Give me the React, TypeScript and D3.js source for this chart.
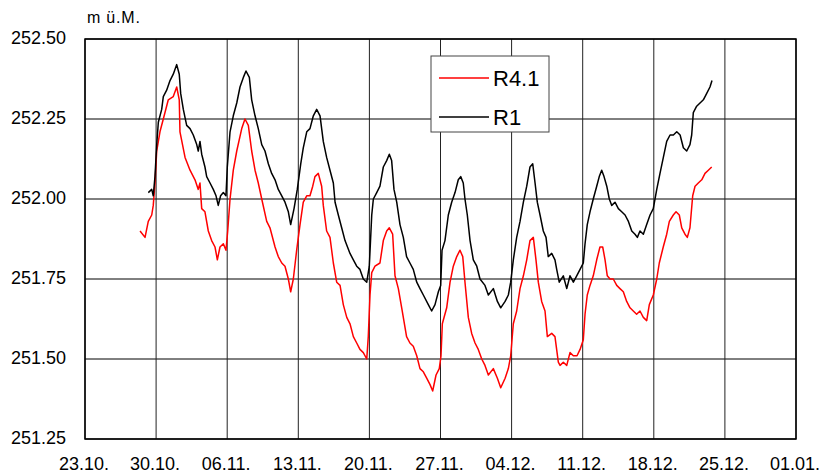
import React from "react";
import { scaleUtc, scaleLinear, line, range } from "d3";

// time axis: days since 23.10.
const startDate = Date.UTC(2006, 9, 23);
const weekTicks = range(0, 71, 7);
const tickLabels = ["23.10.", "30.10.", "06.11.", "13.11.", "20.11.", "27.11.", "04.12.", "11.12.", "18.12.", "25.12.", "01.01."];
const levelTicks = [251.25, 251.5, 251.75, 252.0, 252.25, 252.5];

// R4.1 (red)
const dayR41 = [
  5.42, 5.91, 6.23, 6.57, 6.72, 6.89, 7.06, 7.38, 7.71, 8.2, 8.69, 9.03, 9.28, 9.35, 9.85, 10.34, 10.83, 11.15, 11.32, 11.49,
  11.81, 12.14, 12.47, 12.8, 13.03, 13.29, 13.62, 13.88, 14.05, 14.28, 14.6, 14.94, 15.43, 15.75, 16.08, 16.41, 16.74, 17.06, 17.4, 17.89,
  18.21, 18.71, 19.03, 19.37, 19.69, 20.02, 20.25, 20.51, 20.84, 21.17, 21.49, 21.83, 22.15, 22.42, 22.64, 22.97, 23.3, 23.46, 23.79, 24.12,
  24.45, 24.78, 25.11, 25.43, 25.77, 26.09, 26.42, 26.75, 27.07, 27.4, 27.74, 27.89, 28.06, 28.23, 28.55, 29.04, 29.37, 29.7, 29.96, 30.29,
  30.52, 30.85, 31.18, 31.66, 31.99, 32.32, 32.66, 32.98, 33.31, 33.64, 33.97, 34.23, 34.56, 34.88, 35.05, 35.18, 35.61, 35.94, 36.26, 36.6,
  36.92, 37.19, 37.41, 37.74, 38.07, 38.4, 38.72, 39.06, 39.38, 39.71, 40.2, 40.6, 40.93, 41.36, 41.68, 41.91, 42.17, 42.5, 42.83, 43.16,
  43.49, 43.81, 44.14, 44.4, 44.63, 44.96, 45.29, 45.52, 45.95, 46.27, 46.6, 46.77, 47.09, 47.43, 47.75, 48.08, 48.44, 48.74, 49.06, 49.23,
  49.45, 49.72, 50.04, 50.38, 50.7, 50.97, 51.2, 51.42, 51.69, 52.01, 52.35, 52.67, 53.0, 53.33, 53.66, 53.98, 54.31, 54.64, 54.97, 55.3,
  55.56, 55.95, 56.29, 56.54, 56.93, 57.27, 57.53, 57.92, 58.19, 58.51, 58.75, 59.07, 59.3, 59.56, 59.83, 60.06, 60.38, 60.72, 61.04, 61.37,
  61.7,
];
const levelR41 = [
  251.9, 251.88, 251.93, 251.95, 251.98, 252.05, 252.15, 252.21, 252.25, 252.31, 252.32, 252.35, 252.31, 252.21, 252.13, 252.09, 252.06, 252.03, 252.05, 251.97,
  251.96, 251.9, 251.87, 251.85, 251.81, 251.85, 251.86, 251.84, 251.9, 252.0, 252.09, 252.15, 252.22, 252.25, 252.23, 252.15, 252.09, 252.05, 252.0, 251.93,
  251.91, 251.85, 251.82, 251.8, 251.79, 251.75, 251.71, 251.75, 251.84, 251.92, 251.99, 252.01, 252.01, 252.04, 252.07, 252.08, 252.04, 251.98, 251.9, 251.88,
  251.8, 251.74, 251.73, 251.67, 251.63, 251.61, 251.57, 251.55, 251.53, 251.52, 251.5, 251.57, 251.7, 251.77, 251.79, 251.8, 251.87, 251.9, 251.91, 251.89,
  251.76, 251.72, 251.66, 251.57, 251.55, 251.54, 251.51, 251.47, 251.46, 251.44, 251.42, 251.4, 251.45, 251.47, 251.51, 251.61, 251.66, 251.74, 251.79, 251.82,
  251.84, 251.82, 251.74, 251.63, 251.58, 251.55, 251.53, 251.5, 251.48, 251.45, 251.47, 251.44, 251.41, 251.44, 251.47, 251.51, 251.61, 251.65, 251.72, 251.76,
  251.81, 251.87, 251.88, 251.81, 251.74, 251.68, 251.65, 251.57, 251.58, 251.57, 251.49, 251.48, 251.49, 251.48, 251.52, 251.51, 251.51, 251.53, 251.56, 251.64,
  251.7, 251.73, 251.76, 251.81, 251.85, 251.85, 251.81, 251.76, 251.75, 251.75, 251.73, 251.72, 251.71, 251.68, 251.66, 251.65, 251.64, 251.65, 251.63, 251.62,
  251.67, 251.7, 251.75, 251.8, 251.85, 251.89, 251.93, 251.95, 251.96, 251.95, 251.91, 251.89, 251.88, 251.91, 252.01, 252.04, 252.05, 252.06, 252.08, 252.09,
  252.1,
];

// R1 (black)
const dayR1 = [
  6.23, 6.57, 6.72, 6.89, 7.06, 7.22, 7.55, 7.71, 8.04, 8.37, 8.69, 9.03, 9.28, 9.42, 9.68, 10.01, 10.34, 10.66, 11.0, 11.15,
  11.32, 11.49, 11.81, 11.98, 12.31, 12.63, 12.9, 13.12, 13.35, 13.62, 13.88, 14.01, 14.28, 14.6, 14.94, 15.26, 15.59, 15.85, 16.18, 16.41,
  16.74, 17.06, 17.4, 17.72, 18.05, 18.38, 18.71, 19.03, 19.37, 19.69, 20.02, 20.25, 20.58, 20.9, 21.24, 21.49, 21.83, 22.15, 22.48, 22.81,
  23.14, 23.46, 23.79, 24.12, 24.45, 24.62, 24.94, 25.27, 25.6, 26.09, 26.42, 26.75, 27.07, 27.4, 27.74, 27.99, 28.23, 28.39, 28.72, 29.04,
  29.37, 29.7, 29.96, 30.19, 30.42, 30.69, 31.01, 31.34, 31.66, 31.99, 32.32, 32.66, 32.98, 33.31, 33.8, 34.13, 34.46, 34.79, 35.02, 35.15,
  35.44, 35.77, 36.1, 36.43, 36.75, 36.99, 37.24, 37.41, 37.64, 37.91, 38.23, 38.57, 38.89, 39.38, 39.71, 40.2, 40.6, 40.93, 41.36, 41.68,
  41.91, 42.17, 42.5, 42.83, 43.16, 43.49, 43.81, 44.08, 44.31, 44.53, 44.8, 45.12, 45.39, 45.61, 45.95, 46.27, 46.44, 46.69, 47.09, 47.43,
  47.75, 48.08, 48.41, 48.74, 49.06, 49.23, 49.45, 49.72, 50.04, 50.38, 50.63, 50.87, 51.1, 51.37, 51.62, 51.86, 52.18, 52.51, 52.84, 53.17,
  53.5, 53.83, 54.15, 54.38, 54.64, 54.97, 55.3, 55.63, 55.95, 56.29, 56.61, 56.94, 57.27, 57.6, 57.93, 58.26, 58.59, 58.91, 59.24, 59.56,
  59.73, 59.89, 60.22, 60.55, 60.88, 61.21, 61.53, 61.73,
];
const levelR1 = [
  252.02, 252.03, 252.01, 252.07, 252.17, 252.24, 252.28, 252.32, 252.34, 252.37, 252.39, 252.42, 252.39, 252.33, 252.28, 252.23, 252.22, 252.2, 252.17, 252.15,
  252.18, 252.14, 252.1, 252.07, 252.05, 252.03, 252.01, 251.98, 252.01, 252.02, 252.01, 252.1, 252.21, 252.26, 252.3, 252.35, 252.38, 252.4, 252.38, 252.31,
  252.26, 252.22, 252.17, 252.15, 252.11, 252.08, 252.06, 252.03, 252.01, 251.99, 251.96, 251.92, 251.97, 252.03, 252.11, 252.16, 252.21, 252.22, 252.26, 252.28,
  252.26, 252.18, 252.13, 252.09, 252.05, 251.99, 251.95, 251.91, 251.87, 251.83, 251.81, 251.79, 251.78, 251.75, 251.74, 251.79, 251.95, 252.0, 252.02, 252.04,
  252.1, 252.12, 252.14, 252.12, 252.03, 251.99, 251.92, 251.88, 251.82, 251.8, 251.78, 251.74, 251.72, 251.7, 251.67, 251.65, 251.67, 251.71, 251.73, 251.84,
  251.87, 251.95, 251.99, 252.02, 252.06, 252.07, 252.05, 252.0, 251.95, 251.87, 251.81, 251.79, 251.75, 251.73, 251.7, 251.72, 251.68, 251.66, 251.68, 251.7,
  251.74, 251.81, 251.88, 251.93, 251.99, 252.04, 252.1, 252.11, 252.05, 251.99, 251.95, 251.9, 251.88, 251.82, 251.83, 251.81, 251.78, 251.74, 251.76, 251.72,
  251.76, 251.74, 251.76, 251.78, 251.8, 251.86, 251.92, 251.96, 252.0, 252.04, 252.07, 252.09, 252.07, 252.04, 252.0, 251.98, 251.99, 251.97, 251.96, 251.95,
  251.93, 251.9, 251.89, 251.88, 251.9, 251.89, 251.92, 251.95, 251.97, 252.03, 252.08, 252.13, 252.18, 252.2, 252.2, 252.21, 252.2, 252.16, 252.15, 252.17,
  252.2, 252.27, 252.29, 252.3, 252.31, 252.33, 252.35, 252.37,
];

const toDate = (d: number) => new Date(startDate + d * 86400000);

const margin = { left: 85, top: 39, right: 25, bottom: 35 };
const width = 821;
const height = 474;

export default function App() {
  const x = scaleUtc()
    .domain([toDate(0), toDate(70)])
    .range([margin.left, width - margin.right]);
  const y = scaleLinear()
    .domain([251.25, 252.5])
    .range([height - margin.bottom, margin.top]);

  const pathR41 = line<number>()
    .x((d) => x(toDate(d)))
    .y((_, i) => y(levelR41[i]))(dayR41);
  const pathR1 = line<number>()
    .x((d) => x(toDate(d)))
    .y((_, i) => y(levelR1[i]))(dayR1);

  const font = "Arial, 'Liberation Sans', sans-serif";
  const [x0, x1] = x.range();
  const [y0, y1] = y.range();

  return (
    <svg
      width={width}
      height={height}
      style={{ position: "absolute", left: 0, top: 0, background: "#fff" }}
      fontFamily={font}
    >
      {/* grid */}
      {levelTicks.map((v) => (
        <line key={"h" + v} x1={x0} x2={x1} y1={y(v)} y2={y(v)} stroke="#000" strokeWidth={1} />
      ))}
      {weekTicks.map((d) => (
        <line key={"v" + d} x1={x(toDate(d))} x2={x(toDate(d))} y1={y1} y2={y0} stroke="#222" strokeWidth={1} />
      ))}

      {/* series */}
      <path d={pathR41 ?? ""} fill="none" stroke="#ff0000" strokeWidth={1.5} strokeLinejoin="round" />
      <path d={pathR1 ?? ""} fill="none" stroke="#000" strokeWidth={1.5} strokeLinejoin="round" />

      {/* frame */}
      <rect x={x0} y={y1} width={x1 - x0} height={y0 - y1} fill="none" stroke="#000" strokeWidth={1.5} />

      {/* y tick labels */}
      {levelTicks.map((v) => (
        <text key={"yl" + v} x={66} y={y(v) + 5} textAnchor="end" fontSize={18} fill="#000">
          {v.toFixed(2)}
        </text>
      ))}
      {/* x tick labels */}
      {weekTicks.map((d, i) => (
        <text key={"xl" + d} x={x(toDate(d)) - 1} y={470} textAnchor="middle" fontSize={18} fill="#000">
          {tickLabels[i]}
        </text>
      ))}

      <text x={87} y={23} fontSize={16} letterSpacing={0.8} fill="#000">
        m ü.M.
      </text>

      {/* legend */}
      <rect x={431} y={56} width={118} height={76} fill="#fff" stroke="#444" strokeWidth={1} />
      <line x1={439} x2={489} y1={78} y2={78} stroke="#ff0000" strokeWidth={1.5} />
      <line x1={439} x2={489} y1={117} y2={117} stroke="#000" strokeWidth={1.5} />
      <text x={493} y={86} fontSize={22} fill="#000">R4.1</text>
      <text x={493} y={125} fontSize={22} fill="#000">R1</text>
    </svg>
  );
}
